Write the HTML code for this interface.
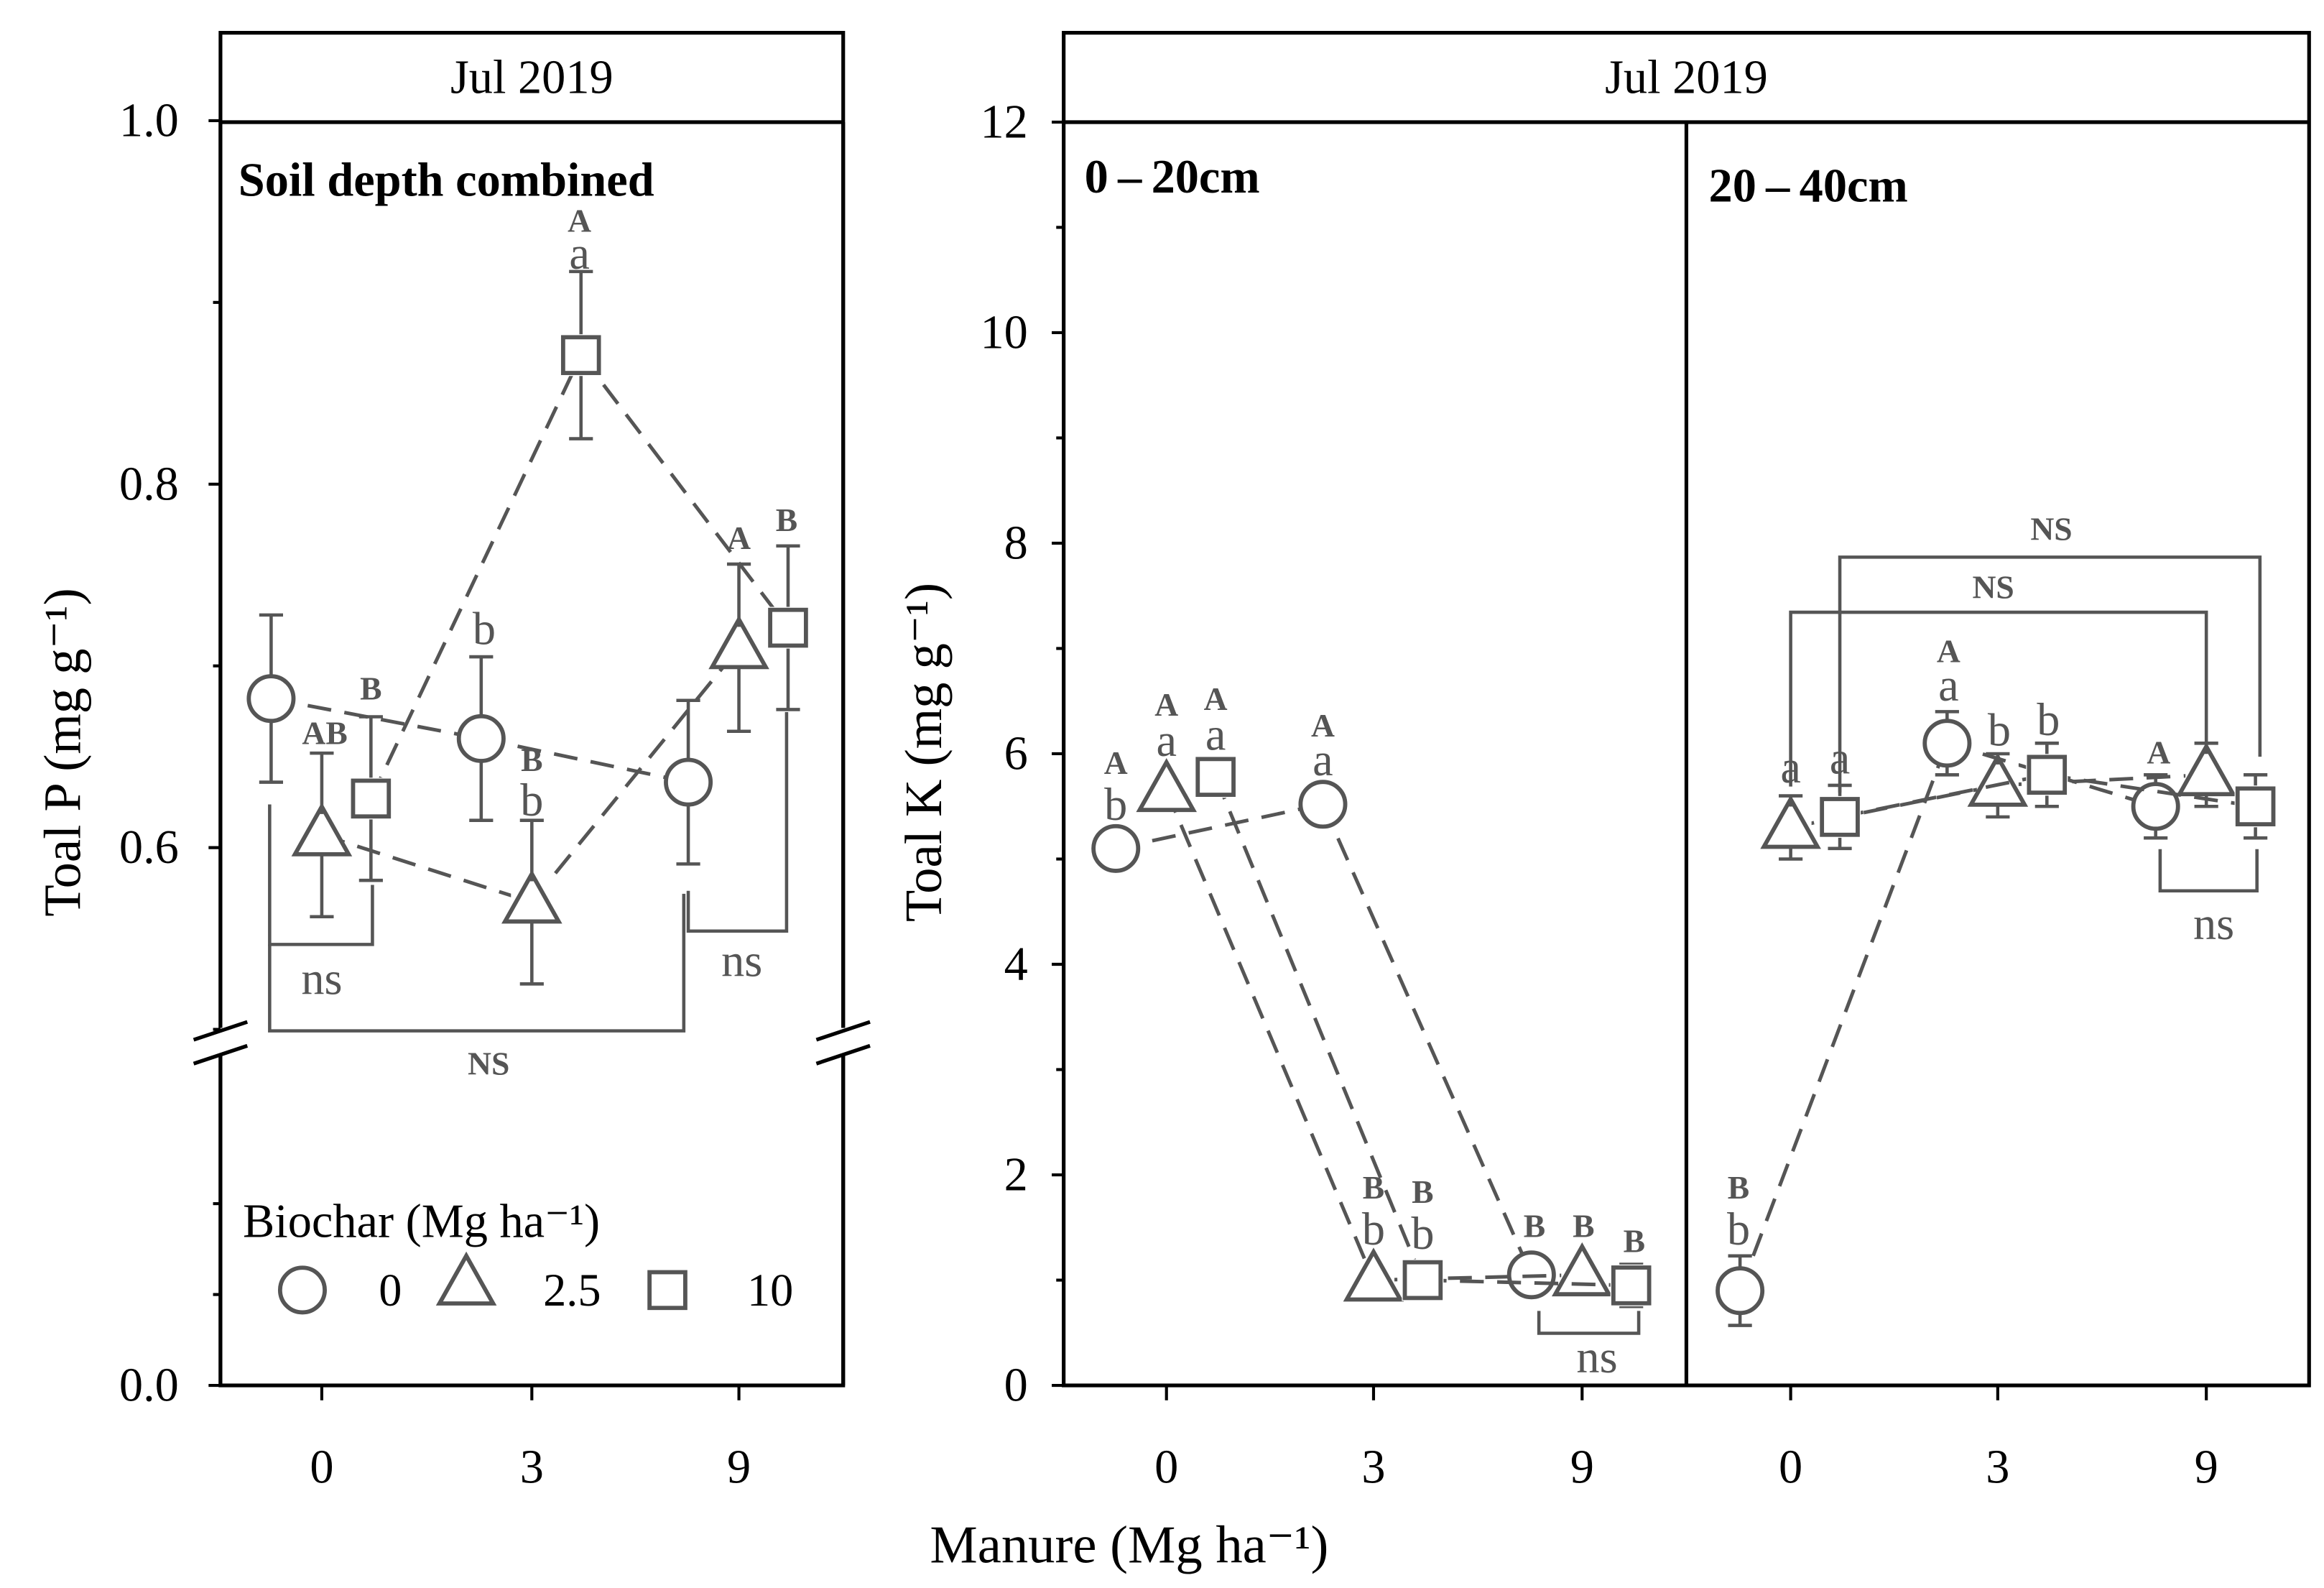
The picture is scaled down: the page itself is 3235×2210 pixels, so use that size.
<!DOCTYPE html>
<html><head><meta charset="utf-8"><style>
html,body{margin:0;padding:0;background:#fff;}
svg{display:block;font-family:"Liberation Serif",serif;}
</style></head><body>
<svg id="chart" width="3235" height="2210" viewBox="0 0 1560 1066" preserveAspectRatio="none" xmlns="http://www.w3.org/2000/svg">
<rect x="0" y="0" width="1560" height="1066" fill="#fff"/>
<g id="g"></g>
</svg>
<script>
// ---- data ----
const manureCats = ["0","3","9"];
const biocharLevels = ["0","2.5","10"];
// Left panel: total P, soil depth combined (series by biochar)
const pMean0 = [0.682, 0.660, 0.636];
const pMean25 = [0.607, 0.570, 0.710];
const pMean10 = [0.627, 0.871, 0.721];
const pErr0 = [0.046, 0.045, 0.045];
const pErr25 = [0.045, 0.045, 0.046];
const pErr10 = [0.045, 0.046, 0.045];
const pTicks = ["0.0","0.6","0.8","1.0"];
// Right panel: total K, 0-20cm
const kTop0 = [5.10, 5.52, 1.05];
const kTop25 = [5.65, 1.00, 1.05];
const kTop10 = [5.78, 1.00, 0.95];
const kTopErr0 = [0.15, 0.15, 0.12];
const kTopErr25 = [0.12, 0.10, 0.12];
const kTopErr10 = [0.15, 0.15, 0.20];
// Right panel: total K, 20-40cm
const kSub0 = [0.90, 6.10, 5.50];
const kSub25 = [5.30, 5.70, 5.80];
const kSub10 = [5.40, 5.80, 5.50];
const kSubErr0 = [0.33, 0.30, 0.30];
const kSubErr25 = [0.30, 0.30, 0.30];
const kSubErr10 = [0.30, 0.30, 0.30];
const kTicks = ["0","2","4","6","8","10","12"];

const NS="http://www.w3.org/2000/svg";
const g=document.getElementById('g');
const C="#555";
function el(t,a,p){const e=document.createElementNS(NS,t);for(const k in a)e.setAttribute(k,a[k]);(p||g).appendChild(e);return e;}
function txt(x,y,s,size,opt){opt=opt||{};const e=el('text',{x:x,y:y,'font-size':size,'text-anchor':opt.anchor||'middle','dominant-baseline':'central',fill:opt.fill||'#000','font-weight':opt.bold?'bold':'normal'});e.textContent=s;if(opt.rot)e.setAttribute('transform','rotate(-90 '+x+' '+y+')');return e;}
function line(x1,y1,x2,y2,o){o=o||{};return el('line',{x1,y1,x2,y2,stroke:o.stroke||'#000','stroke-width':o.w||2,'stroke-dasharray':o.dash||'none'});}

// axis functions
const pY=v=> v>=0.5 ? 569-(v-0.6)*1220 : 930-v*600;
const kY=v=>930-v*70.67;
const leftX=[216,357,496];
const topX=[783,922,1062];
const subX=[1202,1341,1481];
const offs=[-34,0,33];

function marker(type,x,y,name){
  let e;
  if(type===0) e=el('circle',{cx:x,cy:y,r:15,fill:'none',stroke:C,'stroke-width':2.8});
  else if(type===1) e=el('polygon',{points:`${x},${y-19} ${x-18},${y+13} ${x+18},${y+13}`,fill:'none',stroke:C,'stroke-width':2.8});
  else e=el('rect',{x:x-12,y:y-12,width:24,height:24,fill:'none',stroke:C,'stroke-width':2.8});
  
  
  return e;
}
function series(xs,ys,errs,type,yf,name){
  const pts=xs.map((x,i)=>[x+offs[type],yf(ys[i])]);
  for(let i=0;i<pts.length-1;i++){
    const l=line(pts[i][0],pts[i][1],pts[i+1][0],pts[i+1][1],{stroke:C,dash:'16 9',w:2.4});
    
    
  }
  pts.forEach((p,i)=>{
    const yt=yf(ys[i]+errs[i]), yb=yf(ys[i]-errs[i]);
    const b=line(p[0],yt,p[0],yb,{stroke:C,w:2.2});
    
    
    line(p[0]-8,yt,p[0]+8,yt,{stroke:C,w:2.2});
    line(p[0]-8,yb,p[0]+8,yb,{stroke:C,w:2.2});
    el('rect',{x:p[0]-14,y:p[1]-14,width:28,height:28,fill:'#fff',stroke:'none'});
  });
  pts.forEach((p,i)=>marker(type,p[0],p[1],name+'-point-'+manureCats[i]));
}

// ---- left panel frame ----
const lf=el('rect',{x:148,y:22,width:418,height:908,fill:'none',stroke:'#000','stroke-width':2.5});

line(148,82,566,82,{w:2.5});
txt(357,52,'Jul 2019',32);
txt(160,121,'Soil depth combined',32,{bold:true,anchor:'start'});
// break
el('rect',{x:140,y:690,width:434,height:18,fill:'#fff'});
line(148,82,148,690,{w:2.5});line(148,708,148,930,{w:2.5});
line(566,82,566,690,{w:2.5});line(566,708,566,930,{w:2.5});
[148,566].forEach(x=>{line(x-18,698,x+18,686,{w:2.5});line(x-18,714,x+18,702,{w:2.5});});
pTicks.forEach(t=>{const v=parseFloat(t);const y=pY(v);line(140,y,148,y,{w:2});const e=txt(120,y,t,32,{anchor:'end'});});
[0.9,0.7,0.5].forEach(v=>line(143,pY(v),148,pY(v),{w:2}));
[0.1,0.2].forEach(v=>line(143,930-v*610,148,930-v*610,{w:2}));
leftX.forEach((x,i)=>{line(x,930,x,940,{w:2});const e=txt(x,985,manureCats[i],32);});
txt(42,505,'Toal P (mg g\u207B\u00B9)',35,{rot:true});

series(leftX,pMean0,pErr0,0,pY,'p-biochar-0');
series(leftX,pMean25,pErr25,1,pY,'p-biochar-2.5');
series(leftX,pMean10,pErr10,2,pY,'p-biochar-10');

// left annotations
[[389,148,'A',1],[389,170,'a',0],[218,492,'AB',1],[249,462,'B',1],[325,422,'b',0],[357,510,'B',1],[357,537,'b',0],[496,361,'A',1],[528,349,'B',1]]
.forEach(a=>txt(a[0],a[1],a[2],a[3]?22:31,{bold:!!a[3],fill:C}));
// brackets
function poly(pts,name){const e=el('polyline',{points:pts.map(p=>p.join(',')).join(' '),fill:'none',stroke:C,'stroke-width':2.2});}
poly([[181,540],[181,634],[250,634],[250,594]],'bracket-ns-0');
txt(216,657,'ns',31,{fill:C});
poly([[462,598],[462,625],[528,625],[528,478]],'bracket-ns-9');
txt(498,645,'ns',31,{fill:C});
poly([[181,634],[181,692],[459,692],[459,600]],'bracket-NS');
txt(328,714,'NS',22,{bold:true,fill:C});
// legend
txt(163,820,'Biochar (Mg ha\u207B\u00B9)',32,{anchor:'start'});
marker(0,203,866,'legend-marker-0');txt(262,866,'0',31);
marker(1,313,862,'legend-marker-2.5');txt(384,866,'2.5',31);
marker(2,448,866,'legend-marker-10');txt(517,866,'10',31);

// ---- right panel ----
const rf=el('rect',{x:714,y:22,width:836,height:908,fill:'none',stroke:'#000','stroke-width':2.5});

line(714,82,1550,82,{w:2.5});line(1132,82,1132,930,{w:2.5});
txt(1132,52,'Jul 2019',32);
txt(728,119,'0\u202F\u2013\u202F20cm',32,{bold:true,anchor:'start'});
txt(1147,125,'20\u202F\u2013\u202F40cm',32,{bold:true,anchor:'start'});
kTicks.forEach(t=>{const y=kY(+t);line(706,y,714,y,{w:2});const e=txt(690,y,t,32,{anchor:'end'});});
[1,3,5,7,9,11].forEach(v=>line(709,kY(v),714,kY(v),{w:2}));
topX.concat(subX).forEach((x,i)=>{line(x,930,x,940,{w:2});const e=txt(x,985,manureCats[i%3],32);});
txt(620,505,'Toal K (mg g\u207B\u00B9)',35,{rot:true});
txt(758,1037,'Manure (Mg ha\u207B\u00B9)',36);

series(topX,kTop0,kTopErr0,0,kY,'k-top-biochar-0');
series(topX,kTop25,kTopErr25,1,kY,'k-top-biochar-2.5');
series(topX,kTop10,kTopErr10,2,kY,'k-top-biochar-10');
series(subX,kSub0,kSubErr0,0,kY,'k-sub-biochar-0');
series(subX,kSub25,kSubErr25,1,kY,'k-sub-biochar-2.5');
series(subX,kSub10,kSubErr10,2,kY,'k-sub-biochar-10');

[[749,512,'A',1],[749,540,'b',0],[783,473,'A',1],[783,497,'a',0],[816,469,'A',1],[816,493,'a',0],[888,487,'A',1],[888,510,'a',0],
 [922,797,'B',1],[922,825,'b',0],[955,800,'B',1],[955,828,'b',0],[1030,823,'B',1],[1063,823,'B',1],[1097,833,'B',1],
 [1167,797,'B',1],[1167,825,'b',0],[1202,515,'a',0],[1235,509,'a',0],[1308,437,'A',1],[1308,460,'a',0],[1342,490,'b',0],[1375,483,'b',0],[1449,505,'A',1]]
.forEach(a=>txt(a[0],a[1],a[2],a[3]?22:31,{bold:!!a[3],fill:C}));
poly([[1033,880],[1033,895],[1100,895],[1100,880]],'bracket-ns-top-9');
txt(1072,911,'ns',31,{fill:C});
poly([[1450,570],[1450,598],[1515,598],[1515,570]],'bracket-ns-sub-9');
txt(1486,620,'ns',31,{fill:C});
poly([[1235,532],[1235,374],[1517,374],[1517,508]],'bracket-NS-sub-10');
txt(1377,355,'NS',22,{bold:true,fill:C});
poly([[1202,528],[1202,411],[1481,411],[1481,500]],'bracket-NS-sub-2.5');
txt(1338,394,'NS',22,{bold:true,fill:C});
</script>
</body></html>
